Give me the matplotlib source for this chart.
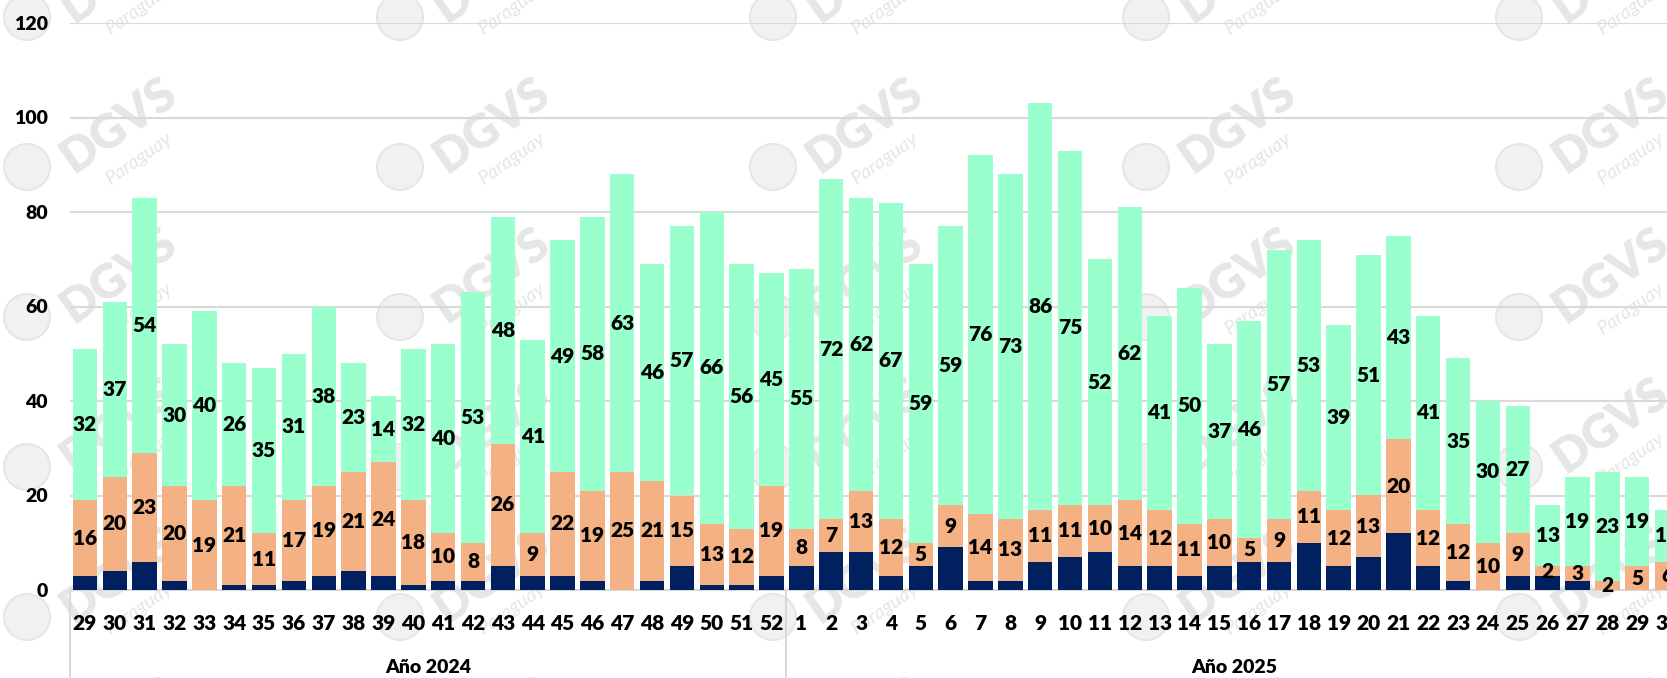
import matplotlib.pyplot as plt
from matplotlib.patches import Ellipse
import numpy as np

# weeks: 2024 (29-52) then 2025 (1-30)
weeks_2024 = list(range(29, 53))
weeks_2025 = list(range(1, 31))
week_labels = [str(w) for w in weeks_2024 + weeks_2025]

# bottom segment (navy, no labels)
navy = [3, 4, 6, 2, 0, 1, 1, 2, 3, 4, 3, 1, 2, 2, 5, 3, 3, 2, 0, 2, 5, 1, 1, 3,
        5, 8, 8, 3, 5, 9, 2, 2, 6, 7, 8, 5, 5, 3, 5, 6, 6, 10, 5, 7, 12, 5, 2, 0,
        3, 3, 2, 0, 0, 0]
# middle segment (salmon)
salmon = [16, 20, 23, 20, 19, 21, 11, 17, 19, 21, 24, 18, 10, 8, 26, 9, 22, 19,
          25, 21, 15, 13, 12, 19,
          8, 7, 13, 12, 5, 9, 14, 13, 11, 11, 10, 14, 12, 11, 10, 5, 9, 11, 12,
          13, 20, 12, 12, 10, 9, 2, 3, 2, 5, 6]
# top segment (mint)
mint = [32, 37, 54, 30, 40, 26, 35, 31, 38, 23, 14, 32, 40, 53, 48, 41, 49, 58,
        63, 46, 57, 66, 56, 45,
        55, 72, 62, 67, 59, 59, 76, 73, 86, 75, 52, 62, 41, 50, 37, 46, 57, 53,
        39, 51, 43, 41, 35, 30, 27, 13, 19, 23, 19, 11]

group_names = ["Año 2024", "Año 2025"]
group_sizes = [len(weeks_2024), len(weeks_2025)]

NAVY = '#002060'
SALMON = '#F4B183'
MINT = '#99FFCC'
GRID = '#D9D9D9'
WM = '#E6E6E6'

plt.rcParams['font.family'] = ['Lato', 'DejaVu Sans']
BOLD = 'heavy'

W, H = 1667, 678
fig = plt.figure(figsize=(W / 100, H / 100), dpi=100)
fig.patch.set_facecolor('white')

# faint watermark tiles behind the chart
for gx in np.arange(27, W + 200, 373):
    for gy in np.arange(17, H + 100, 150):
        fig.patches.append(Ellipse((gx / W, 1 - gy / H), 46 / W, 46 / H,
                                   transform=fig.transFigure, facecolor='#F1F1F1',
                                   edgecolor=WM, lw=1.5, zorder=-3))
        fig.text((gx + 92) / W, 1 - (gy - 42) / H, 'DGVS', fontsize=34,
                 color=WM, rotation=35, ha='center', va='center',
                 zorder=-2, fontweight='heavy')
        fig.text((gx + 112) / W, 1 - (gy - 8) / H, 'Paraguay', fontsize=14,
                 color=WM, rotation=35, ha='center', va='center',
                 zorder=-2, style='italic')

x0, x1 = 70, 1682
y_top, y_zero = 23, 590
ax = fig.add_axes([x0 / W, 1 - y_zero / H, (x1 - x0) / W, (y_zero - y_top) / H])
ax.patch.set_alpha(0)

x = np.arange(len(week_labels))
navy_a = np.array(navy)
salmon_a = np.array(salmon)
mint_a = np.array(mint)

bw = 0.82
ax.bar(x, navy_a, bw, color=NAVY, zorder=3)
b2 = ax.bar(x, salmon_a, bw, bottom=navy_a, color=SALMON, zorder=3)
b3 = ax.bar(x, mint_a, bw, bottom=navy_a + salmon_a, color=MINT, zorder=3)

ax.bar_label(b2, labels=[str(v) for v in salmon], label_type='center',
             fontsize=15, fontweight=BOLD, color='black', zorder=4)
ax.bar_label(b3, labels=[str(v) for v in mint], label_type='center',
             fontsize=15, fontweight=BOLD, color='black', zorder=4)

ax.set_xlim(-0.5, len(x) - 0.5)
ax.set_ylim(0, 120)
ax.set_yticks(range(0, 121, 20))
ax.yaxis.grid(True, color=GRID, linewidth=1.5, zorder=0)
ax.set_axisbelow(True)
for s in ['top', 'right', 'left']:
    ax.spines[s].set_visible(False)
ax.spines['bottom'].set_color(GRID)
ax.spines['bottom'].set_linewidth(1.5)
ax.tick_params(axis='y', length=0, pad=16, labelsize=14)
ax.tick_params(axis='x', length=0, pad=17, labelsize=15)
ax.set_xticks(x)
ax.set_xticklabels(week_labels)
for lab in ax.get_xticklabels() + ax.get_yticklabels():
    lab.set_fontweight(BOLD)

# group separators and year labels below the axis
start = -0.5
for name, n in zip(group_names, group_sizes):
    ax.plot([start, start], [0, -20], color=GRID, lw=1.5, clip_on=False)
    ax.text(start + n / 2, -16.5, name, ha='center', va='center', fontsize=14,
            fontweight=BOLD, clip_on=False)
    start += n
ax.plot([start, start], [0, -20], color=GRID, lw=1.5, clip_on=False)

fig.savefig('out.png', dpi=100)
